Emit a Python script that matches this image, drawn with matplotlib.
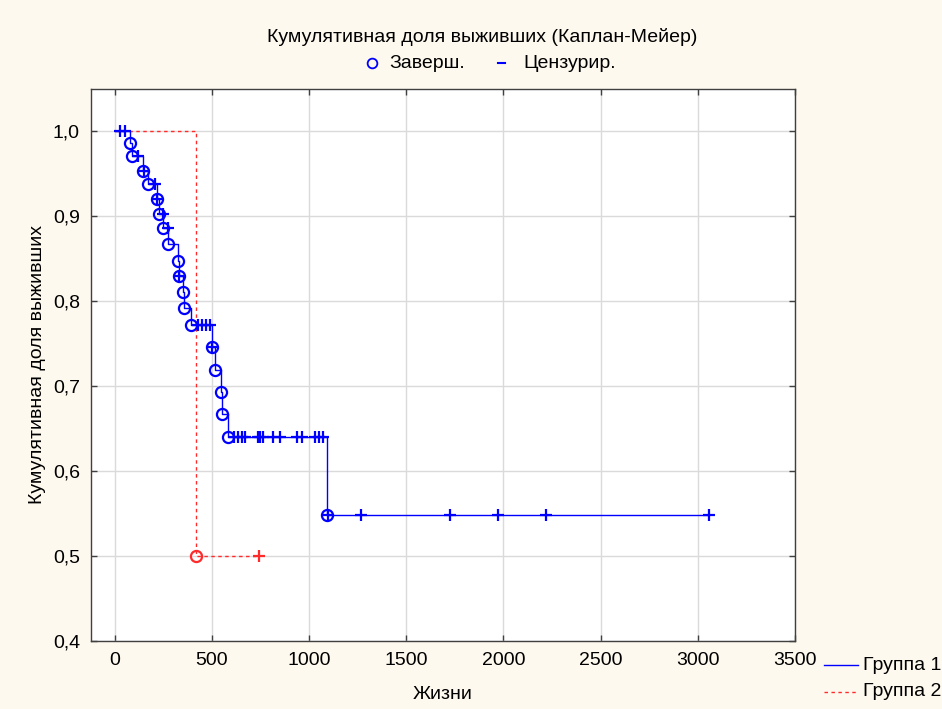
"""
Kaplan-Meier survival curves for two groups, drawn as step plots with
event circles and censoring crosses.
"""
import numpy as np
import matplotlib
matplotlib.use("Agg")
from matplotlib import pyplot as plt
from matplotlib.lines import Line2D
from matplotlib.ticker import FuncFormatter

plt.rcParams['font.family'] = ['Liberation Sans', 'DejaVu Sans']

#Group 1: event times and survival just after each event
g1_event_t = [80, 88, 147, 172, 216, 230, 250, 276, 326, 330, 352, 356, 394,
              501, 515, 545, 554, 584, 1093]
g1_event_s = [0.985, 0.970, 0.953, 0.937, 0.920, 0.902, 0.885, 0.867, 0.847,
              0.829, 0.810, 0.791, 0.772, 0.746, 0.719, 0.693, 0.667, 0.640,
              0.548]
#Group 1: censored times
g1_cens_t = [27, 53, 121, 150, 207, 218, 246, 272, 332, 429, 450, 469, 491,
             503, 612, 633, 653, 672, 736, 749, 762, 816, 848, 938, 965, 1032,
             1052, 1070, 1095, 1269, 1723, 1972, 2221, 3057]

#Group 2
g2_event_t = [420]
g2_event_s = [0.5]
g2_cens_t = [741]

x_ticks = [0, 500, 1000, 1500, 2000, 2500, 3000, 3500]
y_ticks = [0.4, 0.5, 0.6, 0.7, 0.8, 0.9, 1.0]

title = "Кумулятивная доля выживших (Каплан-Мейер)"
x_label = "Жизни"
y_label = "Кумулятивная доля выживших"
group_names = ["Группа 1", "Группа 2"]

BLUE = "#0000ff"
RED = "#ff2a2a"
BG = "#fef9ee"
FS = 14


def surv_at(t, ev_t, ev_s):
    """Survival level of the step curve at time t"""
    i = np.searchsorted(ev_t, t, side="right")
    return 1.0 if i == 0 else ev_s[i - 1]


def draw_group(ax, ev_t, ev_s, cens_t, color, ls, lw):
    end_t = max(ev_t[-1], cens_t[-1])
    xs = [0] + list(ev_t) + [end_t]
    ys = [1.0] + list(ev_s) + [ev_s[-1]]
    ax.step(xs, ys, where="post", color=color, ls=ls, lw=lw, zorder=3)
    ax.plot(ev_t, ev_s, "o", mfc="none", mec=color, mew=1.6, ms=8, zorder=4)
    cs = [surv_at(t, ev_t, ev_s) for t in cens_t]
    ax.plot(cens_t, cs, "+", color=color, mew=1.6, ms=8, zorder=4)


fig = plt.figure(figsize=(9.42, 7.09), dpi=100, facecolor=BG)
ax = fig.add_axes([91/942, 1 - 641/709, (795 - 91)/942, (641 - 89)/709])
ax.set_facecolor("white")

draw_group(ax, g2_event_t, g2_event_s, g2_cens_t, RED, (0, (2.5, 2.5)), 1.0)
draw_group(ax, g1_event_t, g1_event_s, g1_cens_t, BLUE, "-", 1.0)

ax.set_xlim(-122, 3500)
ax.set_ylim(0.4, 1.049)
ax.set_xticks(x_ticks)
ax.set_yticks(y_ticks)
ax.yaxis.set_major_formatter(FuncFormatter(lambda v, p: f"{v:.1f}".replace(".", ",")))
ax.grid(True, color="#dadada", lw=1.0, zorder=0)
ax.tick_params(direction="in", length=4, width=1, color="#404040",
               top=True, right=True, labelsize=FS, pad=8)
for sp in ax.spines.values():
    sp.set_color("#404040")
    sp.set_linewidth(1.0)

ax.set_xlabel(x_label, fontsize=FS, labelpad=12)
ax.set_ylabel(y_label, fontsize=FS, labelpad=5)

#Title and marker key above the plot
fig.text(482/942, 1 - 37/709, title, ha="center", va="center", fontsize=FS)
fig.add_artist(Line2D([372/942], [1 - 63/709], marker="o", mfc="none",
                      mec=BLUE, mew=1.3, ms=7))
fig.text(389/942, 1 - 63/709, "Заверш.", ha="left", va="center", fontsize=FS)
fig.add_artist(Line2D([498/942, 505/942], [1 - 63/709, 1 - 63/709],
                      color=BLUE, lw=1.5))
fig.text(523/942, 1 - 63/709, "Цензурир.", ha="left", va="center", fontsize=FS)

#Group key at the bottom right
key_y = [665, 692]
key_style = [(BLUE, "-"), (RED, (0, (2.5, 2.5)))]
for yy, name, (c, ls) in zip(key_y, group_names, key_style):
    fig.add_artist(Line2D([824/942, 858/942], [1 - yy/709, 1 - yy/709],
                          color=c, ls=ls, lw=1.0))
    fig.text(863/942, 1 - yy/709, name, ha="left", va="center", fontsize=FS)

fig.savefig("out.png", dpi=100, facecolor=BG)
